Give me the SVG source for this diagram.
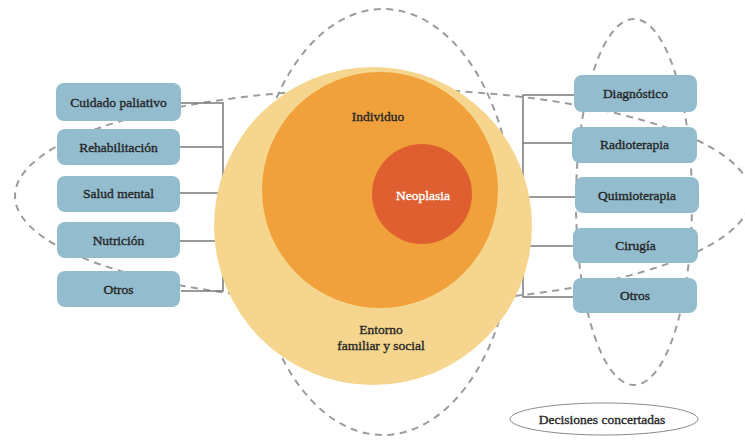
<svg xmlns="http://www.w3.org/2000/svg" width="745" height="440" viewBox="0 0 745 440">
  <style>
    .dash { fill: none; stroke: #9c9c9c; stroke-width: 2; stroke-dasharray: 7 5.5; }
    .link { fill: none; stroke: #7a7a7a; stroke-width: 1.5; }
    .box { fill: #93bdce; }
    .lbl { font-family: "Liberation Serif", "Times New Roman", serif; font-size: 13.5px; fill: #262626; stroke: #262626; stroke-width: 0.35; text-anchor: middle; }
    .inv { fill: #ffffff; stroke: #ffffff; }
  </style>

  <!-- decision contours -->
  <g id="contours">
    <ellipse class="dash" cx="383" cy="222" rx="131" ry="213"/>
    <ellipse class="dash" cx="383" cy="196" rx="368" ry="107"/>
    <ellipse class="dash" cx="634" cy="202" rx="58" ry="183"/>
  </g>

  <!-- connectors from the services to the patient -->
  <g id="connectors">
    <path class="link" d="M181 103 H223 V291 H181 M180 147 H223 M180 193 H230 M180 241 H230"/>
    <path class="link" d="M574 95 H523 V297 H573 M572 143 H523 M575 197 H515 M573 246 H515"/>
  </g>

  <!-- concentric circles -->
  <g id="entorno">
    <circle cx="373" cy="226" r="159" fill="#f6d68f"/>
    <text class="lbl" x="381" y="334">Entorno</text>
    <text class="lbl" x="381" y="350">familiar y social</text>
  </g>
  <g id="individuo">
    <circle cx="380" cy="190" r="118" fill="#f0a13b"/>
    <text class="lbl" x="378" y="121">Individuo</text>
  </g>
  <g id="neoplasia">
    <circle cx="422" cy="194" r="50" fill="#e05f30"/>
    <text class="lbl inv" x="423" y="200">Neoplasia</text>
  </g>

  <!-- supportive care -->
  <g id="cuidado-paliativo">
    <rect class="box" x="56" y="83" width="125" height="38" rx="8"/>
    <text class="lbl" x="118.5" y="107">Cuidado paliativo</text>
  </g>
  <g id="rehabilitacion">
    <rect class="box" x="57" y="129" width="123" height="36" rx="8"/>
    <text class="lbl" x="118.5" y="152">Rehabilitación</text>
  </g>
  <g id="salud-mental">
    <rect class="box" x="57" y="176" width="123" height="36" rx="8"/>
    <text class="lbl" x="118.5" y="198">Salud mental</text>
  </g>
  <g id="nutricion">
    <rect class="box" x="57" y="222" width="123" height="36" rx="8"/>
    <text class="lbl" x="118.5" y="245">Nutrición</text>
  </g>
  <g id="otros-izq">
    <rect class="box" x="57" y="271" width="123" height="36" rx="8"/>
    <text class="lbl" x="118.5" y="294">Otros</text>
  </g>

  <!-- oncological treatment -->
  <g id="diagnostico">
    <rect class="box" x="574" y="75" width="123" height="37" rx="8"/>
    <text class="lbl" x="635.5" y="98">Diagnóstico</text>
  </g>
  <g id="radioterapia">
    <rect class="box" x="572" y="127" width="125" height="36" rx="8"/>
    <text class="lbl" x="634.5" y="149">Radioterapia</text>
  </g>
  <g id="quimioterapia">
    <rect class="box" x="575" y="177" width="124" height="36" rx="8"/>
    <text class="lbl" x="637" y="200">Quimioterapia</text>
  </g>
  <g id="cirugia">
    <rect class="box" x="573" y="228" width="125" height="35" rx="8"/>
    <text class="lbl" x="635.5" y="250">Cirugía</text>
  </g>
  <g id="otros-der">
    <rect class="box" x="573" y="278" width="124" height="35" rx="8"/>
    <text class="lbl" x="635" y="300">Otros</text>
  </g>

  <!-- legend -->
  <g id="leyenda">
    <ellipse cx="604" cy="419" rx="94" ry="16" fill="#ffffff" stroke="#8a8a8a" stroke-width="1"/>
    <text class="lbl" x="602" y="424">Decisiones concertadas</text>
  </g>
</svg>
